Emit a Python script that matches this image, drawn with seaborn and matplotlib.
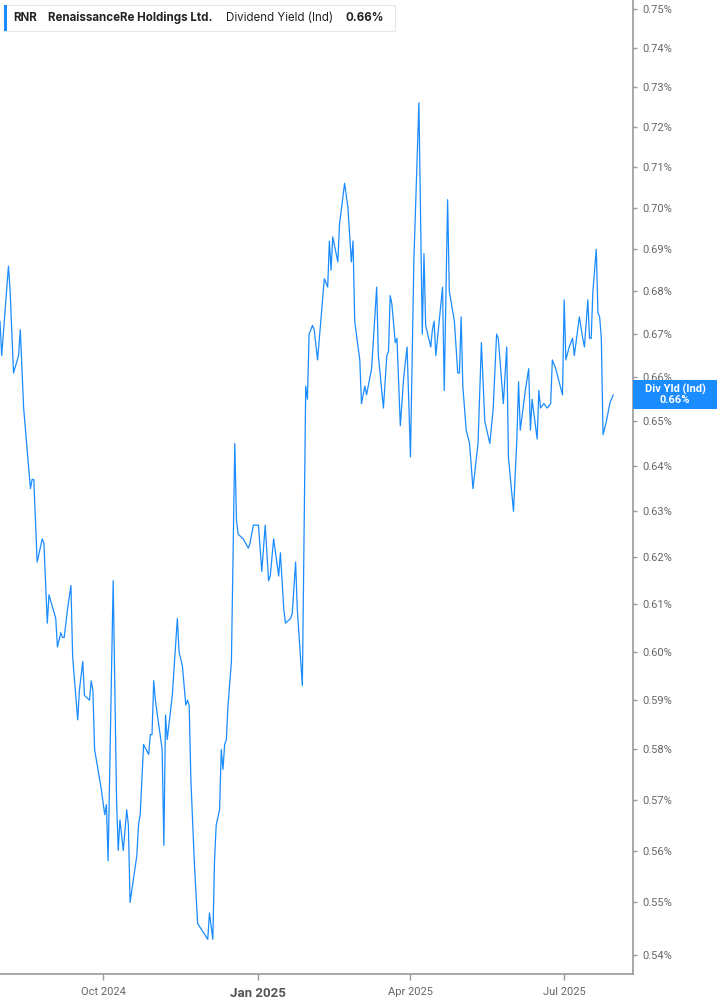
import pandas as pd
import matplotlib
matplotlib.use("Agg")
import matplotlib.pyplot as plt
import seaborn as sns
from matplotlib.patches import Rectangle
from matplotlib.ticker import FixedLocator, NullLocator

# Dividend yield (Ind), RNR - readings
dates = [
    "2024-08-01", "2024-08-02", "2024-08-06", "2024-08-07", "2024-08-09", "2024-08-12", "2024-08-13", "2024-08-15", "2024-08-17", "2024-08-19",
    "2024-08-20", "2024-08-21", "2024-08-23", "2024-08-26", "2024-08-27", "2024-08-29", "2024-08-30", "2024-09-03", "2024-09-04", "2024-09-06",
    "2024-09-07", "2024-09-08", "2024-09-10", "2024-09-12", "2024-09-13", "2024-09-16", "2024-09-17", "2024-09-19", "2024-09-20", "2024-09-23",
    "2024-09-24", "2024-09-25", "2024-09-26", "2024-09-27", "2024-09-30", "2024-10-02", "2024-10-03", "2024-10-04", "2024-10-07", "2024-10-09",
    "2024-10-10", "2024-10-11", "2024-10-13", "2024-10-15", "2024-10-16", "2024-10-17", "2024-10-21", "2024-10-22", "2024-10-23", "2024-10-25",
    "2024-10-28", "2024-10-29", "2024-10-30", "2024-10-31", "2024-11-01", "2024-11-03", "2024-11-05", "2024-11-06", "2024-11-07", "2024-11-08",
    "2024-11-11", "2024-11-14", "2024-11-15", "2024-11-17", "2024-11-19", "2024-11-20", "2024-11-21", "2024-11-22", "2024-11-24", "2024-11-26",
    "2024-12-02", "2024-12-03", "2024-12-05", "2024-12-06", "2024-12-07", "2024-12-09", "2024-12-10", "2024-12-11", "2024-12-12", "2024-12-13",
    "2024-12-14", "2024-12-16", "2024-12-18", "2024-12-19", "2024-12-20", "2024-12-23", "2024-12-26", "2024-12-27", "2024-12-29", "2025-01-01",
    "2025-01-03", "2025-01-05", "2025-01-07", "2025-01-08", "2025-01-10", "2025-01-13", "2025-01-14", "2025-01-16", "2025-01-17", "2025-01-20",
    "2025-01-21", "2025-01-23", "2025-01-24", "2025-01-27", "2025-01-29", "2025-01-30", "2025-01-31", "2025-02-02", "2025-02-03", "2025-02-05",
    "2025-02-09", "2025-02-11", "2025-02-12", "2025-02-13", "2025-02-14", "2025-02-17", "2025-02-18", "2025-02-21", "2025-02-23", "2025-02-25",
    "2025-02-26", "2025-02-27", "2025-03-02", "2025-03-03", "2025-03-05", "2025-03-06", "2025-03-09", "2025-03-12", "2025-03-13", "2025-03-16",
    "2025-03-18", "2025-03-19", "2025-03-20", "2025-03-21", "2025-03-23", "2025-03-24", "2025-03-26", "2025-03-28", "2025-03-30", "2025-04-01",
    "2025-04-03", "2025-04-06", "2025-04-08", "2025-04-09", "2025-04-10", "2025-04-13", "2025-04-14", "2025-04-15", "2025-04-16", "2025-04-20",
    "2025-04-21", "2025-04-23", "2025-04-24", "2025-04-27", "2025-04-29", "2025-04-30", "2025-05-01", "2025-05-02", "2025-05-04", "2025-05-06",
    "2025-05-08", "2025-05-11", "2025-05-13", "2025-05-15", "2025-05-18", "2025-05-20", "2025-05-22", "2025-05-23", "2025-05-26", "2025-05-28",
    "2025-05-29", "2025-06-01", "2025-06-03", "2025-06-04", "2025-06-05", "2025-06-08", "2025-06-10", "2025-06-11", "2025-06-12", "2025-06-15",
    "2025-06-16", "2025-06-17", "2025-06-19", "2025-06-21", "2025-06-23", "2025-06-24", "2025-06-26", "2025-06-28", "2025-06-30", "2025-07-01",
    "2025-07-02", "2025-07-04", "2025-07-06", "2025-07-07", "2025-07-10", "2025-07-12", "2025-07-13", "2025-07-15", "2025-07-16", "2025-07-17",
    "2025-07-18", "2025-07-20", "2025-07-21", "2025-07-22", "2025-07-23", "2025-07-24", "2025-07-26", "2025-07-28", "2025-07-29", "2025-07-30",
]
yield_pct = [
    0.673, 0.665, 0.686, 0.680, 0.661, 0.665, 0.671, 0.653, 0.644, 0.635,
    0.637, 0.637, 0.619, 0.624, 0.623, 0.606, 0.612, 0.607, 0.601, 0.604,
    0.603, 0.603, 0.609, 0.614, 0.599, 0.586, 0.592, 0.598, 0.591, 0.590,
    0.594, 0.592, 0.580, 0.578, 0.572, 0.567, 0.569, 0.558, 0.615, 0.570,
    0.560, 0.566, 0.560, 0.568, 0.565, 0.550, 0.559, 0.565, 0.567, 0.581,
    0.579, 0.583, 0.583, 0.594, 0.590, 0.585, 0.580, 0.561, 0.587, 0.582,
    0.591, 0.607, 0.600, 0.597, 0.589, 0.590, 0.589, 0.574, 0.558, 0.546,
    0.543, 0.548, 0.543, 0.558, 0.565, 0.568, 0.580, 0.576, 0.581, 0.582,
    0.589, 0.598, 0.645, 0.628, 0.625, 0.624, 0.622, 0.623, 0.627, 0.627,
    0.617, 0.627, 0.615, 0.616, 0.624, 0.616, 0.621, 0.609, 0.606, 0.607,
    0.608, 0.619, 0.609, 0.593, 0.658, 0.655, 0.670, 0.672, 0.671, 0.664,
    0.683, 0.681, 0.692, 0.685, 0.693, 0.687, 0.696, 0.706, 0.700, 0.687,
    0.692, 0.673, 0.664, 0.654, 0.658, 0.656, 0.662, 0.681, 0.665, 0.653,
    0.665, 0.666, 0.679, 0.677, 0.668, 0.669, 0.649, 0.660, 0.667, 0.642,
    0.687, 0.726, 0.670, 0.689, 0.672, 0.667, 0.671, 0.673, 0.665, 0.681,
    0.657, 0.702, 0.680, 0.673, 0.661, 0.661, 0.674, 0.658, 0.648, 0.645,
    0.635, 0.645, 0.668, 0.650, 0.645, 0.653, 0.670, 0.669, 0.654, 0.667,
    0.642, 0.630, 0.646, 0.659, 0.648, 0.657, 0.662, 0.648, 0.655, 0.646,
    0.657, 0.653, 0.654, 0.653, 0.654, 0.664, 0.662, 0.659, 0.656, 0.678,
    0.664, 0.667, 0.669, 0.665, 0.674, 0.669, 0.667, 0.678, 0.669, 0.669,
    0.680, 0.690, 0.675, 0.674, 0.669, 0.647, 0.650, 0.654, 0.655, 0.656,
]
y_ticks = [0.54, 0.55, 0.56, 0.57, 0.58, 0.59, 0.60, 0.61, 0.62, 0.63, 0.64,
           0.65, 0.66, 0.67, 0.68, 0.69, 0.70, 0.71, 0.72, 0.73, 0.74, 0.75]
x_ticks = ["2024-10-01", "2025-01-01", "2025-04-01", "2025-07-01"]
x_labels = ["Oct 2024", "Jan 2025", "Apr 2025", "Jul 2025"]
current_label = "0.66%"

df = pd.DataFrame({"date": pd.to_datetime(dates), "yield": yield_pct})

BLUE = "#1a8cff"
GREY = "#9a9a9a"
W, H = 717, 1005

sns.set_style("white")
plt.rcParams["font.family"] = ["Roboto", "DejaVu Sans"]

fig = plt.figure(figsize=(W / 100, H / 100), dpi=100)
ax = fig.add_axes([0, 31 / H, 633 / W, 974 / H])

sns.lineplot(data=df, x="date", y="yield", ax=ax, color=BLUE, linewidth=0.9)

ax.set_yscale("log")
ax.set_ylim(0.5365, 0.7524)
ax.set_xlim(pd.Timestamp("2024-08-01"), pd.Timestamp("2025-08-10 18:00"))
ax.set_xlabel("")
ax.set_ylabel("")

ax.yaxis.set_major_locator(FixedLocator(y_ticks))
ax.yaxis.set_minor_locator(NullLocator())
ax.set_yticklabels([f"{t:.2f}%" for t in y_ticks])
ax.tick_params(axis="y", which="both", left=False, right=True, labelleft=False,
               labelright=True, length=3, width=1, color=GREY,
               labelcolor="#666666", labelsize=8, pad=4)

ax.set_xticks(pd.to_datetime(x_ticks))
ax.set_xticklabels(x_labels)
ax.tick_params(axis="x", bottom=True, length=4, width=1, color=GREY,
               labelcolor="#666666", labelsize=8, pad=5)
for lbl in ax.get_xticklabels():
    if lbl.get_text() == "Jan 2025":
        lbl.set_fontweight("bold")
        lbl.set_fontsize(9.5)
        lbl.set_color("#555555")

for side in ["top", "left"]:
    ax.spines[side].set_visible(False)
for side in ["right", "bottom"]:
    ax.spines[side].set_color(GREY)
    ax.spines[side].set_linewidth(1.2)

# header box
fig.add_artist(Rectangle((4 / W, 1 - 31 / H), 391 / W, 26 / H, transform=fig.transFigure,
                         facecolor="white", edgecolor="#e6e6e6", linewidth=0.8))
fig.add_artist(Rectangle((4 / W, 1 - 31 / H), 3 / W, 26 / H, transform=fig.transFigure,
                         facecolor=BLUE, edgecolor="none"))
head_y = 1 - 18 / H
head_font = ["Inter", "DejaVu Sans"]
fig.text(13 / W, head_y, "RNR", fontsize=8.3, fontweight="bold", color="#222222",
         va="center", family=head_font)
fig.text(48 / W, head_y, "RenaissanceRe Holdings Ltd.", fontsize=8.3, fontweight="bold",
         color="#222222", va="center", family=head_font)
fig.text(226 / W, head_y, "Dividend Yield (Ind)", fontsize=8.3, color="#222222",
         va="center", family=head_font)
fig.text(345 / W, head_y, current_label, fontsize=8.3, fontweight="bold", color="#222222",
         va="center", family=head_font)

# current value tag on the right axis
fig.canvas.draw()
last_y = ax.transData.transform((ax.get_xlim()[0], yield_pct[-1]))[1] / H
fig.add_artist(Rectangle((633 / W, last_y - 14.5 / H), 84 / W, 29 / H, transform=fig.transFigure,
                         facecolor=BLUE, edgecolor="none"))
fig.text(675 / W, last_y + 5.5 / H, "Div Yld (Ind)", fontsize=8, fontweight="bold",
         color="white", ha="center", va="center")
fig.text(675 / W, last_y - 5.5 / H, current_label, fontsize=8, fontweight="bold",
         color="white", ha="center", va="center")

fig.savefig("out.png", dpi=100)
